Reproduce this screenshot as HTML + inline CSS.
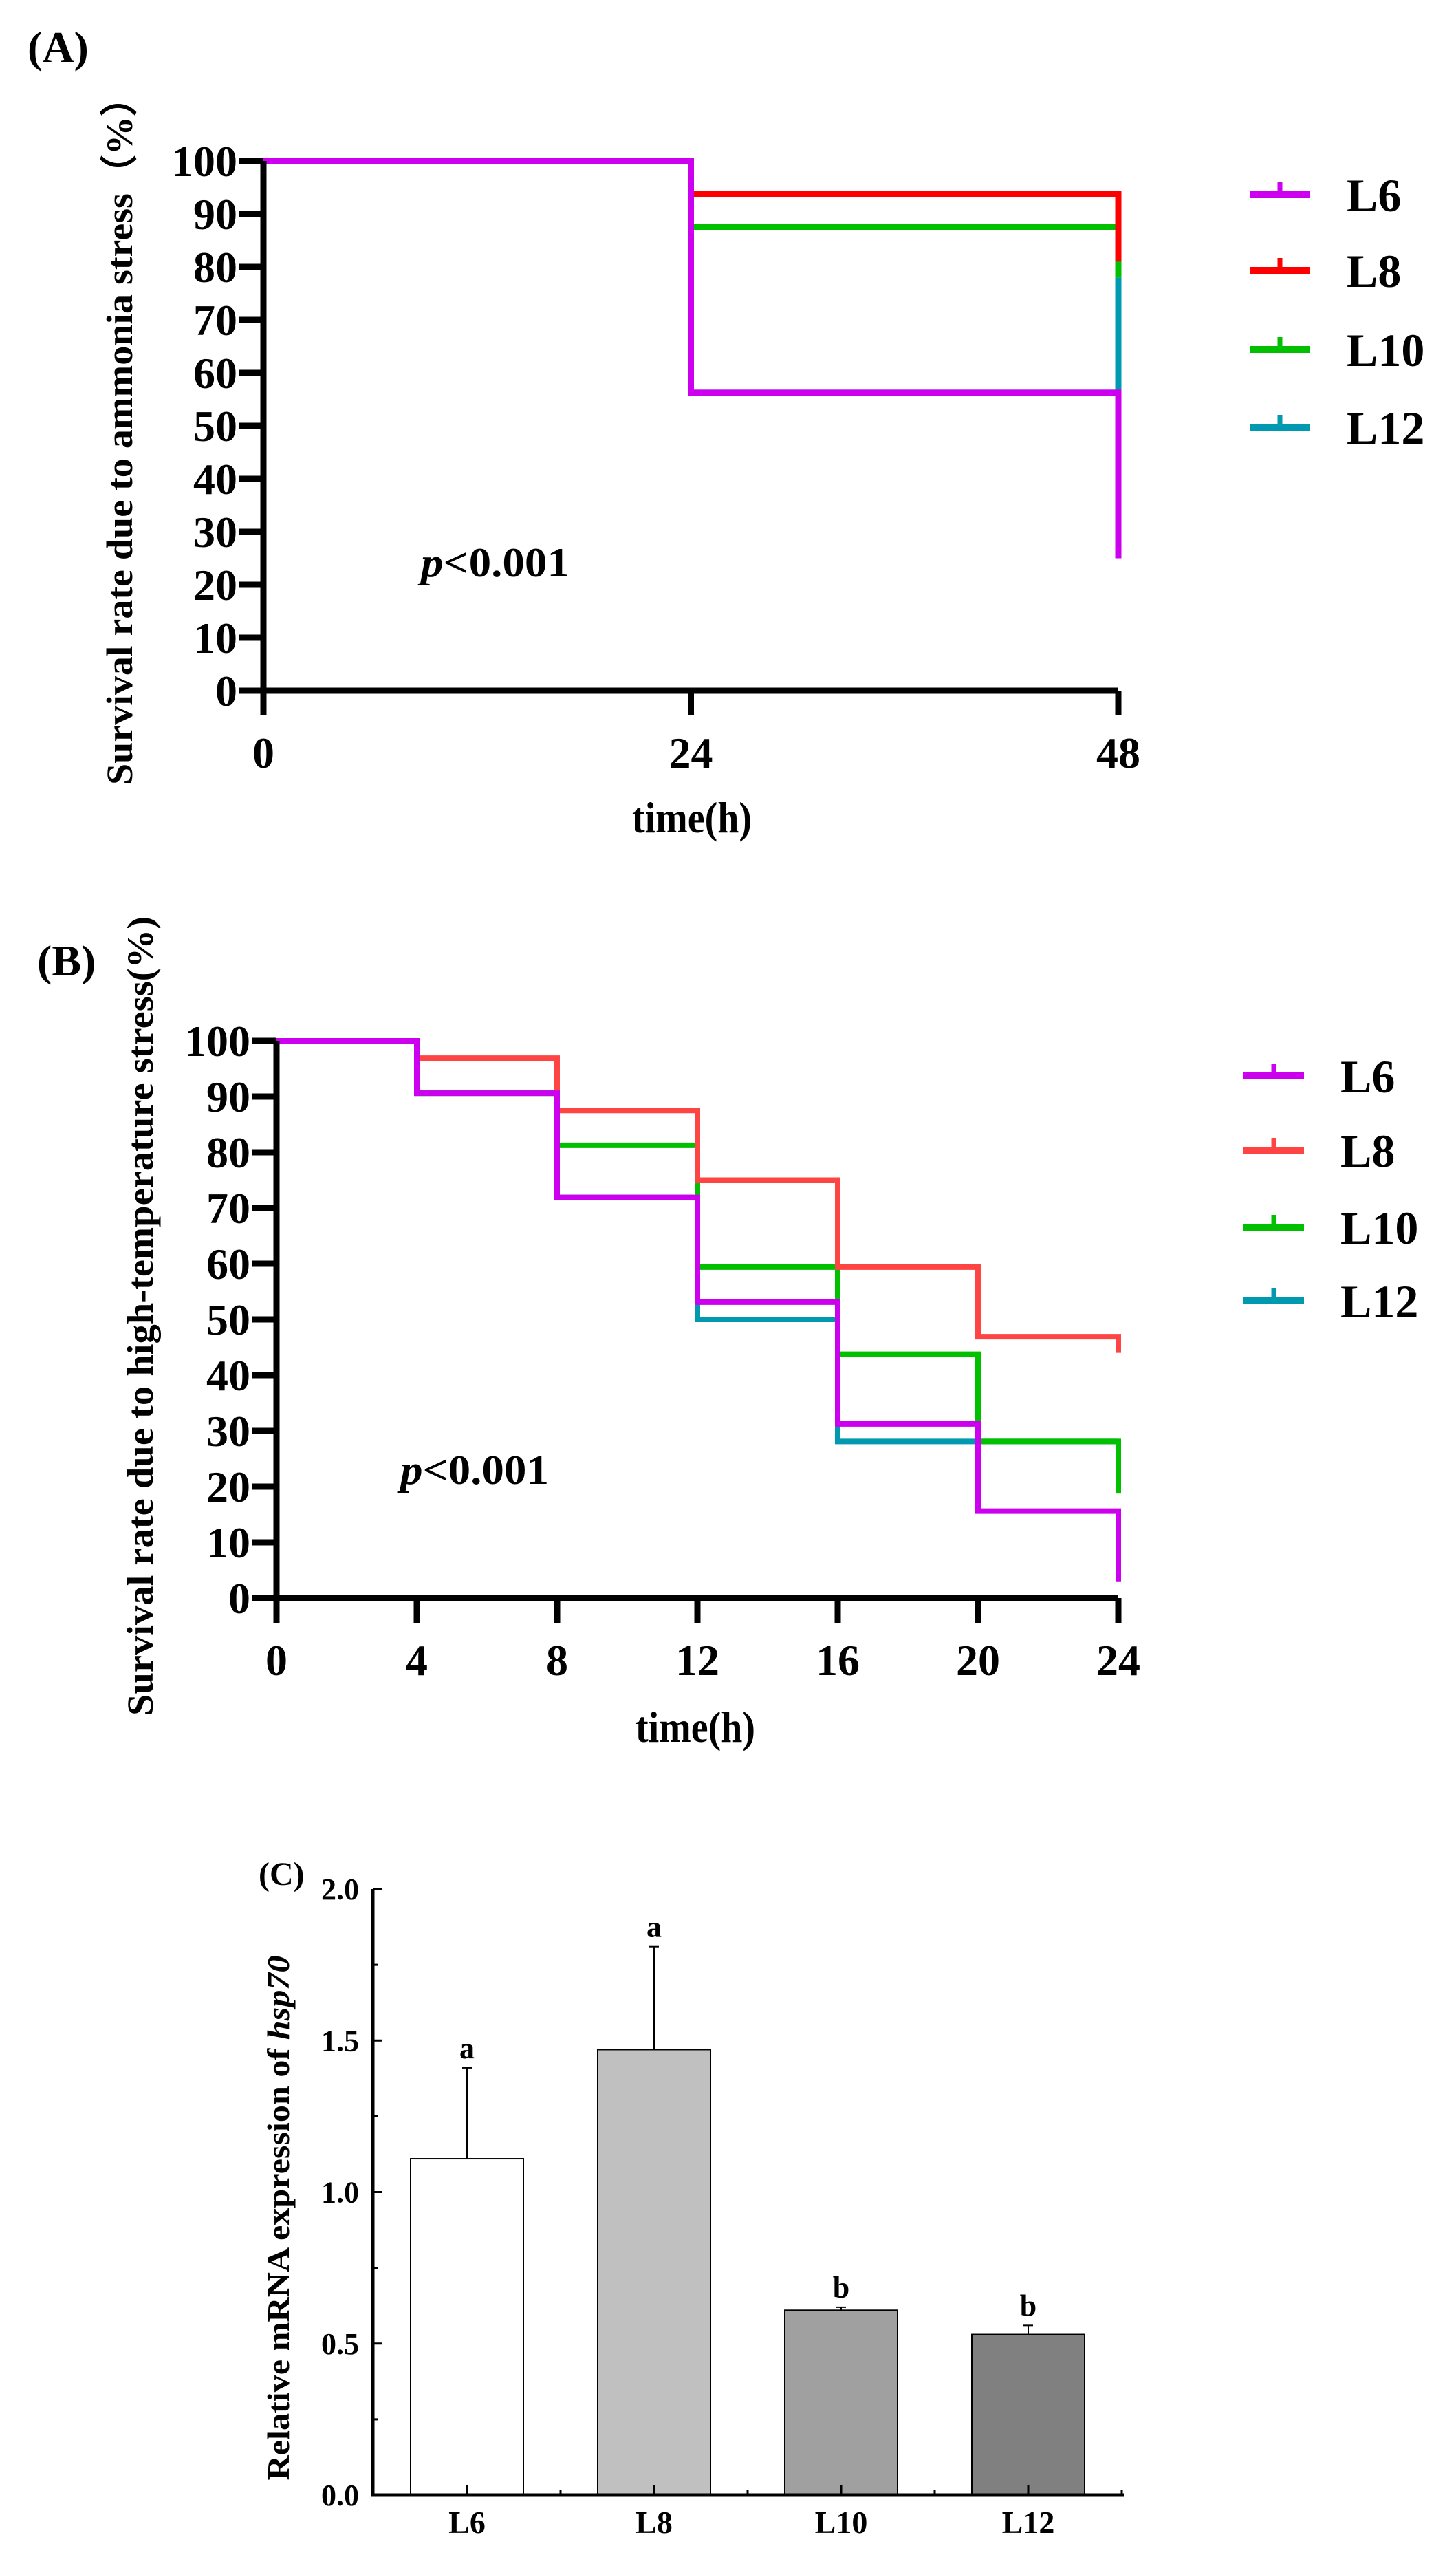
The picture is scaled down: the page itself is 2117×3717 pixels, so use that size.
<!DOCTYPE html>
<html><head><meta charset="utf-8"><style>
html,body{margin:0;padding:0;background:#fff;}
svg{display:block;}
text{font-family:"Liberation Serif",serif;font-weight:bold;fill:#000;}
</style></head><body>
<svg id="svg" width="2117" height="3717" viewBox="0 0 2117 3717" xmlns="http://www.w3.org/2000/svg">
<g id="gA">
<text x="40" y="90" font-size="64">(A)</text>
<text transform="translate(192,627) rotate(-90)" text-anchor="middle" font-size="54" textLength="1028" lengthAdjust="spacingAndGlyphs">Survival rate due to ammonia stress（%）</text>
<text x="1006" y="1210" text-anchor="middle" font-size="64" textLength="174" lengthAdjust="spacingAndGlyphs">time(h)</text>
<text x="612" y="838" font-size="60" font-weight="normal" textLength="216" lengthAdjust="spacingAndGlyphs"><tspan font-style="italic">p</tspan>&lt;0.001</text>
</g>
<g id="gB">
<text x="54" y="1418" font-size="64">(B)</text>
<text transform="translate(222,1913) rotate(-90)" text-anchor="middle" font-size="54" textLength="1162" lengthAdjust="spacingAndGlyphs">Survival rate due to high-temperature stress(%)</text>
<text x="1011" y="2532" text-anchor="middle" font-size="64" textLength="174" lengthAdjust="spacingAndGlyphs">time(h)</text>
<text x="582" y="2157" font-size="60" font-weight="normal" textLength="216" lengthAdjust="spacingAndGlyphs"><tspan font-style="italic">p</tspan>&lt;0.001</text>
</g>
<g id="gC">
<text x="376" y="2740" font-size="48">(C)</text>
<text transform="translate(420,3224) rotate(-90)" text-anchor="middle" font-size="46" textLength="763" lengthAdjust="spacingAndGlyphs">Relative mRNA expression of <tspan font-style="italic">hsp70</tspan></text>
</g>
</svg>
<script>
var NS="http://www.w3.org/2000/svg";
// Panel A data
var aTimes=[0,24,48];
var aL6=[100,56.25,25];
var aL8=[100,93.75,81];
var aL10=[100,87.5,78];
var aL12=[100,56.25,78];
var aYTicks=[0,10,20,30,40,50,60,70,80,90,100];
var aXTicks=[0,24,48];
// Panel B data
var bTimes=[0,4,8,12,16,20,24];
var bL6=[100,90.6,71.9,53.1,31.25,15.6,3];
var bL8=[100,96.9,87.5,75,59.4,46.9,44];
var bL10=[100,90.6,81.25,59.4,43.75,28.1,18.75];
var bL12=[100,90.6,71.9,50,28.1,28.1,28.1];
var bYTicks=[0,10,20,30,40,50,60,70,80,90,100];
var bXTicks=[0,4,8,12,16,20,24];
// Panel C data
var cCategories=["L6","L8","L10","L12"];
var cMeans=[1.11,1.47,0.61,0.53];
var cErrTop=[1.41,1.81,0.62,0.56];
var cLetters=["a","a","b","b"];
var cYTicks=["0.0","0.5","1.0","1.5","2.0"];

function mk(tag,attrs,parent){var e=document.createElementNS(NS,tag);for(var k in attrs)e.setAttribute(k,attrs[k]);parent.appendChild(e);return e;}

function survivalPanel(g,cfg,times,series,names,colors,yTicks,xTicks,legYs){
  var X=function(t){return cfg.x0+(t-cfg.tmin)/(cfg.tmax-cfg.tmin)*(cfg.x1-cfg.x0);};
  var Y=function(v){return cfg.y0+(v/100)*(cfg.y100-cfg.y0);};
  // series drawn in reverse order so L6 on top
  for(var s=series.length-1;s>=0;s--){
    var v=series[s],d="M"+X(times[0])+","+Y(v[0]);
    for(var i=1;i<times.length;i++){d+=" H"+X(times[i])+" V"+Y(v[i]);}
    var p=mk("path",{d:d,fill:"none",stroke:colors[s],"stroke-width":cfg.lw,"stroke-linejoin":"miter","stroke-linecap":"butt"},g);
    
    
  }
  var ax=mk("path",{d:"M"+cfg.x0+","+Y(100)+" V"+cfg.y0+" H"+X(cfg.tmax),fill:"none",stroke:"#000","stroke-width":9},g);
  
  
  yTicks.forEach(function(t){
    mk("line",{x1:cfg.x0-35,x2:cfg.x0,y1:Y(t),y2:Y(t),stroke:"#000","stroke-width":9},g);
    var tx=mk("text",{x:cfg.x0-38,y:Y(t)+22,"text-anchor":"end","font-size":64},g);
    tx.textContent=t;
    
    
  });
  xTicks.forEach(function(t){
    mk("line",{x1:X(t),x2:X(t),y1:cfg.y0,y2:cfg.y0+36,stroke:"#000","stroke-width":9},g);
    var tx=mk("text",{x:X(t),y:cfg.y0+112,"text-anchor":"middle","font-size":64},g);
    tx.textContent=t;
    
    
  });
  for(var k=0;k<names.length;k++){
    var lg=mk("g",{},g);
    
    
    mk("line",{x1:cfg.lx,x2:cfg.lx+88,y1:legYs[k],y2:legYs[k],stroke:colors[k],"stroke-width":10},lg);
    mk("line",{x1:cfg.lx+44,x2:cfg.lx+44,y1:legYs[k]-18,y2:legYs[k],stroke:colors[k],"stroke-width":7},lg);
    var lt=mk("text",{x:cfg.lx+141,y:legYs[k]+24,"font-size":68},lg);
    lt.textContent=names[k];
  }
}
var names=["L6","L8","L10","L12"];
survivalPanel(document.getElementById("gA"),{x0:383,x1:1626,tmin:0,tmax:48,y0:1004,y100:234,lw:9,lx:1817},
  aTimes,[aL6,aL8,aL10,aL12],names,["#cc00ee","#ff0000","#00c000","#0099b0"],aYTicks,aXTicks,[283,393,508,621]);
survivalPanel(document.getElementById("gB"),{x0:402,x1:1626,tmin:0,tmax:24,y0:2323,y100:1513,lw:8,lx:1808},
  bTimes,[bL6,bL8,bL10,bL12],names,["#cc00ee","#ff4444","#00c000","#0099b0"],bYTicks,bXTicks,[1564,1672,1784,1891]);

// Panel C
(function(){
  var g=document.getElementById("gC");
  var x0=542,x1=1634,y0=3627,y2=2746;
  var Y=function(v){return y0+(v/2)*(y2-y0);};
  var step=272,first=679,bw=164;
  var X=function(i){return first+i*step;};
  var fills=["#ffffff","#c0c0c0","#a0a0a0","#808080"];
  cMeans.forEach(function(m,i){
    var el=mk("line",{x1:X(i),x2:X(i),y1:Y(m),y2:Y(cErrTop[i]),stroke:"#000","stroke-width":2},g);
    
    
    mk("line",{x1:X(i)-7,x2:X(i)+7,y1:Y(cErrTop[i]),y2:Y(cErrTop[i]),stroke:"#000","stroke-width":2},g);
    var r=mk("rect",{x:X(i)-bw/2,y:Y(m),width:bw,height:y0-Y(m),fill:fills[i],stroke:"#000","stroke-width":2},g);
    
    
    var lt=mk("text",{x:X(i),y:Y(cErrTop[i])-14,"text-anchor":"middle","font-size":44},g);
    lt.textContent=cLetters[i];
    
    
    var xl=mk("text",{x:X(i),y:3682,"text-anchor":"middle","font-size":46},g);
    xl.textContent=cCategories[i];
    
    
    mk("line",{x1:X(i),x2:X(i),y1:y0,y2:y0-15,stroke:"#000","stroke-width":3},g);
    mk("line",{x1:X(i)+step/2,x2:X(i)+step/2,y1:y0,y2:y0-8,stroke:"#000","stroke-width":3},g);
  });
  var ax=mk("path",{d:"M"+x0+","+y2+" V"+y0+" H"+x1,fill:"none",stroke:"#000","stroke-width":5},g);
  
  
  cYTicks.forEach(function(t){
    var v=parseFloat(t);
    mk("line",{x1:x0,x2:x0+14,y1:Y(v),y2:Y(v),stroke:"#000","stroke-width":3},g);
    if(v<2) mk("line",{x1:x0,x2:x0+8,y1:Y(v+0.25),y2:Y(v+0.25),stroke:"#000","stroke-width":3},g);
    var tx=mk("text",{x:522,y:Y(v)+15,"text-anchor":"end","font-size":44},g);
    tx.textContent=t;
    
    
  });
})();
</script>
</body></html>
